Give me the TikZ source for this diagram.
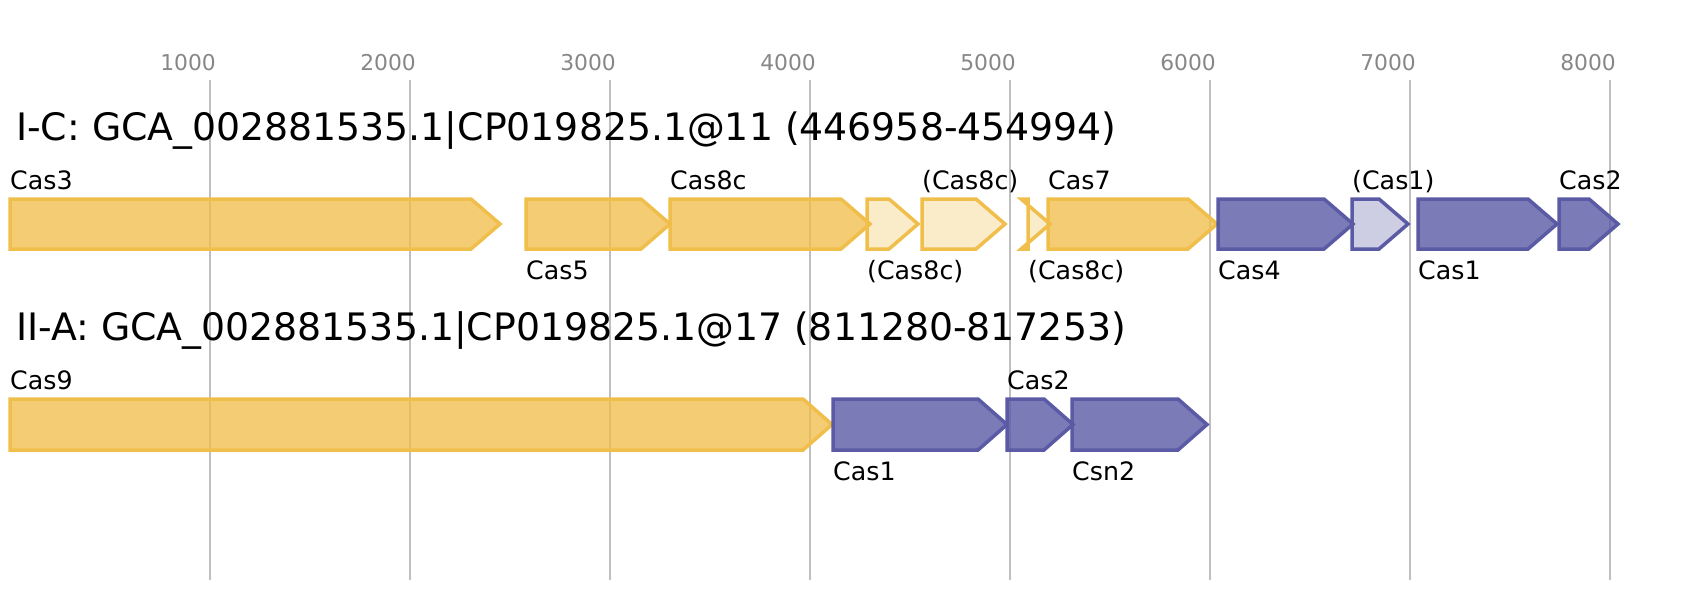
\documentclass[tikz,border=0pt]{standalone}
\usepackage{fontspec}
\setmainfont{DejaVu Sans}
\definecolor{casyellow}{RGB}{240,190,75}
\definecolor{casblue}{RGB}{90,90,165}

\begin{document}
\begin{tikzpicture}[x=1pt,y=-1pt,
		grid line/.style={draw=black!25,line width=2pt},
		tick label/.style={anchor=base east,inner sep=0pt,text=black!47,font=\fontsize{21.8}{24}\selectfont},
		locus title/.style={anchor=base west,inner sep=0pt,font=\fontsize{37.8}{42}\selectfont},
		gene label/.style={anchor=base west,inner sep=0pt,font=\fontsize{25.3}{30}\selectfont},
		yellow gene/.style={draw=casyellow,fill=casyellow,fill opacity=0.78,line width=3.5pt},
		pale yellow gene/.style={draw=casyellow,fill=casyellow,fill opacity=0.3,line width=3.5pt},
		blue gene/.style={draw=casblue,fill=casblue,fill opacity=0.8,line width=3.5pt},
		pale blue gene/.style={draw=casblue,fill=casblue,fill opacity=0.3,line width=3.5pt}]
	\useasboundingbox (0,0) rectangle (1707,600);
	\foreach \k in {1,...,8} {
		\draw[grid line] (10+200*\k,80) -- (10+200*\k,580);
		\node[tick label] (tick-\k) at (16+200*\k,70) {\k000};
	}
	\node[locus title] (title-ic) at (16,140) {I-C: GCA\_002881535.1|CP019825.1@11 (446958-454994)};
	\node[locus title] (title-iia) at (16,340) {II-A: GCA\_002881535.1|CP019825.1@17 (811280-817253)};
	\foreach \s/\e/\sty/\lab/\ly [count=\i] in {
			10/500/yellow gene/Cas3/189,
			526/670/yellow gene/Cas5/279,
			670/870/yellow gene/Cas8c/189,
			867/918/pale yellow gene/(Cas8c)/279,
			922/1005/pale yellow gene/(Cas8c)/189,
			1028/1050/pale yellow gene/(Cas8c)/279,
			1048/1217/yellow gene/Cas7/189,
			1218/1353/blue gene/Cas4/279,
			1352/1408/pale blue gene/(Cas1)/189,
			1418/1557/blue gene/Cas1/279,
			1559/1618/blue gene/Cas2/189} {
		\draw[\sty] (\s,199) -- (\e-29,199) -- (\e,224) -- (\e-29,249) -- (\s,249) -- cycle;
		\node[gene label] (ic-\i) at (\s,\ly) {\lab};
	}
	\foreach \s/\e/\sty/\lab/\ly [count=\i] in {
			10/832/yellow gene/Cas9/389,
			833/1007/blue gene/Cas1/480,
			1007/1073/blue gene/Cas2/389,
			1072/1207/blue gene/Csn2/480} {
		\draw[\sty] (\s,399) -- (\e-29,399) -- (\e,424.5) -- (\e-29,450) -- (\s,450) -- cycle;
		\node[gene label] (iia-\i) at (\s,\ly) {\lab};
	}
\end{tikzpicture}
\end{document}
